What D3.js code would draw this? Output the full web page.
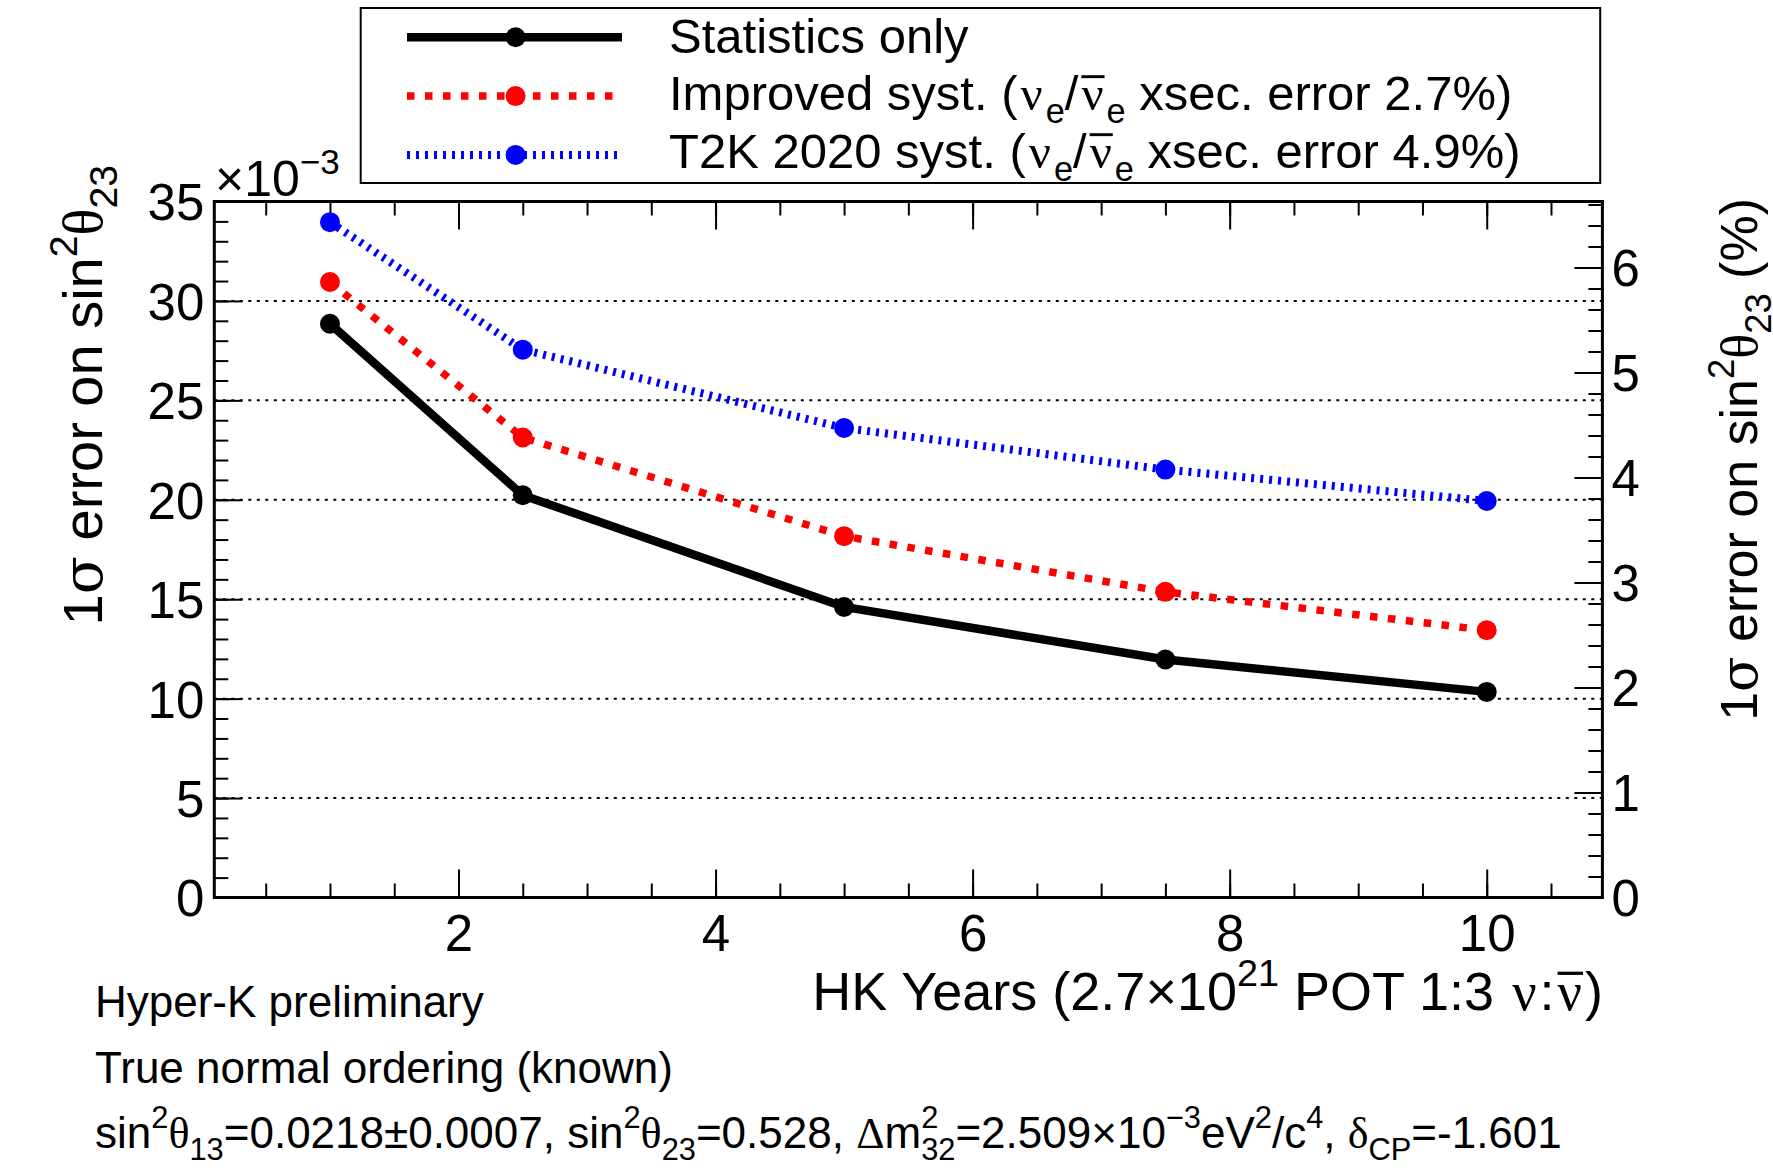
<!DOCTYPE html>
<html><head><meta charset="utf-8">
<script src="https://cdn.jsdelivr.net/npm/d3@7"></script>
<style>body{margin:0;background:#fff} svg{display:block}</style>
</head><body>
<svg id="c" width="1773" height="1171"></svg>
<script>
// ---- data ----
const years = [1, 2.5, 5, 7.5, 10];
const statOnly = [28.85, 20.23, 14.61, 11.97, 10.34];
const improvedSyst = [30.95, 23.13, 18.17, 15.37, 13.44];
const t2kSyst = [33.96, 27.55, 23.61, 21.52, 19.94];
const yTicks = [0, 5, 10, 15, 20, 25, 30, 35];
const yGrid = [5, 10, 15, 20, 25, 30];
const yPctTicks = [0, 1, 2, 3, 4, 5, 6];
const xTicks = [2, 4, 6, 8, 10];
const sin2theta23 = 0.528;
const xsecImproved = "2.7%";
const xsecT2K = "4.9%";

// ---- setup ----
const FONT = "'Liberation Sans', Arial, Helvetica, sans-serif";
const GREEK = "'Liberation Serif', 'DejaVu Serif', serif";
const GREEK2 = "'DejaVu Serif', 'Liberation Serif', serif";
const svg = d3.select("#c");
const X0 = 214.3, X1 = 1602.4, Y0 = 897.5, Y1 = 201.5;
const x = d3.scaleLinear().domain([0.1, 10.9]).range([X0, X1]);
const y = d3.scaleLinear().domain([0, 35]).range([Y0, Y1]);
const yPct = d3.scaleLinear().domain([0, 35e-3 / sin2theta23 * 100]).range([Y0, Y1]);

function rich(parent, px, py, parts, opts) {
  const g = parent.append("g").attr("transform", `translate(${px},${py})` + (opts.rotate ? ` rotate(${opts.rotate})` : ""));
  const t = g.append("text").attr("font-family", FONT).attr("font-size", opts.size)
    .attr("text-anchor", opts.anchor || "start").attr("fill", "#000");
  let shift = 0, prev = null, padNext = 0;
  const bars = [];
  parts.forEach(p => {
    if (typeof p === "string") p = {t: p};
    const s = p.sup ? -0.45 * opts.size : p.sub ? 0.27 * opts.size : 0;
    const ts = t.append("tspan").text(p.t);
    if (s - shift !== 0) ts.attr("dy", s - shift);
    shift = s;
    if (p.sup || p.sub) ts.attr("font-size", opts.size * 0.7);
    if (p.greek) ts.attr("font-family", p.greek === 2 ? GREEK2 : GREEK);
    let dx = padNext + (p.pad || 0);
    if (p.back && prev) dx -= prev.node().getComputedTextLength();
    if (dx) ts.attr("dx", dx);
    padNext = p.pad || 0;
    if (p.bar) bars.push(ts);
    prev = ts;
  });
  bars.forEach(ts => {
    const n = ts.node();
    const k = n.getNumberOfChars();
    const a = n.getStartPositionOfChar(0).x, b = n.getEndPositionOfChar(k - 1).x;
    g.append("line").attr("x1", a).attr("x2", b + 1)
      .attr("y1", -0.68 * opts.size).attr("y2", -0.68 * opts.size)
      .attr("stroke", "#000").attr("stroke-width", 0.06 * opts.size);
  });
  return g;
}

// ---- grid ----
svg.append("g").selectAll("line").data(yGrid).join("line")
  .attr("x1", X0).attr("x2", X1).attr("y1", d => y(d)).attr("y2", d => y(d))
  .attr("stroke", "#000").attr("stroke-width", 2).attr("stroke-dasharray", "3,5.5");

// ---- axes ----
const TL = 28, TS = 14;
function styleAxis(g) { g.select(".domain").remove(); g.selectAll("line").attr("stroke", "#000").attr("stroke-width", 2); }
const xMinor = d3.range(0.5, 10.9, 0.5);
const yMinor = d3.range(0, 35.01, 1);
const pctMinor = d3.range(0, 6.63, 0.2);

svg.append("g").attr("transform", `translate(0,${Y0})`)
  .call(d3.axisBottom(x).tickValues(xMinor).tickSize(-TS).tickFormat("")).call(styleAxis);
svg.append("g").attr("transform", `translate(0,${Y1})`)
  .call(d3.axisTop(x).tickValues(xMinor).tickSize(-TS).tickFormat("")).call(styleAxis);
const xb = svg.append("g").attr("transform", `translate(0,${Y0})`)
  .call(d3.axisBottom(x).tickValues(xTicks).tickSize(-TL).tickPadding(0).tickFormat(d3.format("d"))).call(styleAxis);
xb.selectAll("text").attr("font-family", FONT).attr("font-size", 51).attr("fill", "#000").attr("dy", null).attr("y", 53);
svg.append("g").attr("transform", `translate(0,${Y1})`)
  .call(d3.axisTop(x).tickValues(xTicks).tickSize(-TL).tickFormat("")).call(styleAxis);

svg.append("g").attr("transform", `translate(${X0},0)`)
  .call(d3.axisLeft(y).tickValues(yMinor).tickSize(-TS).tickFormat("")).call(styleAxis);
const yl = svg.append("g").attr("transform", `translate(${X0},0)`)
  .call(d3.axisLeft(y).tickValues(yTicks).tickSize(-TL).tickPadding(0).tickFormat(d3.format("d"))).call(styleAxis);
yl.selectAll("text").attr("font-family", FONT).attr("font-size", 51).attr("fill", "#000").attr("x", -10).attr("dy", "0.36em");

svg.append("g").attr("transform", `translate(${X1},0)`)
  .call(d3.axisRight(yPct).tickValues(pctMinor).tickSize(-TS).tickFormat("")).call(styleAxis);
const yr = svg.append("g").attr("transform", `translate(${X1},0)`)
  .call(d3.axisRight(yPct).tickValues(yPctTicks).tickSize(-TL).tickPadding(0).tickFormat(d3.format("d"))).call(styleAxis);
yr.selectAll("text").attr("font-family", FONT).attr("font-size", 51).attr("fill", "#000").attr("x", 9).attr("dy", "0.36em");

// frame
svg.append("rect").attr("x", X0).attr("y", Y1).attr("width", X1 - X0).attr("height", Y0 - Y1)
  .attr("fill", "none").attr("stroke", "#000").attr("stroke-width", 3);

// ---- series ----
const series = [
  {vals: statOnly, color: "#000", dash: null, w: 8.5},
  {vals: improvedSyst, color: "#ff0000", dash: "7.5,10.5", w: 7.5},
  {vals: t2kSyst, color: "#0000ff", dash: "3,6", w: 8}
];
const line = d3.line().x(d => x(d[0])).y(d => y(d[1]));
series.forEach(s => {
  const pts = years.map((yr, i) => [yr, s.vals[i]]);
  svg.append("path").datum(pts).attr("d", line).attr("fill", "none")
    .attr("stroke", s.color).attr("stroke-width", s.w).attr("stroke-dasharray", s.dash);
  svg.append("g").selectAll("circle").data(pts).join("circle")
    .attr("cx", d => x(d[0])).attr("cy", d => y(d[1])).attr("r", 10).attr("fill", s.color);
});

// ---- legend ----
svg.append("rect").attr("x", 360.7).attr("y", 8).attr("width", 1239.5).attr("height", 175)
  .attr("fill", "#fff").attr("stroke", "#000").attr("stroke-width", 2);
const nuPart = (bar) => ({t: "ν", greek: 1, bar: bar, pad: 3});
const legTexts = [
  ["Statistics only"],
  ["Improved syst. (", nuPart(0), {t: "e", sub: 1}, "/", nuPart(1), {t: "e", sub: 1}, " xsec. error " + xsecImproved + ")"],
  ["T2K 2020 syst. (", nuPart(0), {t: "e", sub: 1}, "/", nuPart(1), {t: "e", sub: 1}, " xsec. error " + xsecT2K + ")"]
];
const legY = [37.3, 96.1, 154.9];
const legBase = [53, 110, 168];
series.forEach((s, i) => {
  svg.append("line").attr("x1", 407).attr("x2", 622).attr("y1", legY[i]).attr("y2", legY[i])
    .attr("stroke", s.color).attr("stroke-width", s.w).attr("stroke-dasharray", s.dash);
  svg.append("circle").attr("cx", 515.6).attr("cy", legY[i]).attr("r", 10).attr("fill", s.color);
  rich(svg, 669, legBase[i], legTexts[i], {size: 49});
});

// ---- titles ----
rich(svg, 215, 196, ["×10", {t: "−3", sup: 1}], {size: 50});
rich(svg, 102, 165, ["1", {t: "σ", greek: 2}, " error on sin", {t: "2", sup: 1}, {t: "θ", greek: 1}, {t: "23", sub: 1}], {size: 56, rotate: -90, anchor: "end"});
rich(svg, 1757, 198, ["1", {t: "σ", greek: 2}, " error on sin", {t: "2", sup: 1}, {t: "θ", greek: 1}, {t: "23", sub: 1}, " (%)"], {size: 52, rotate: -90, anchor: "end"});
rich(svg, 1603, 1010, ["HK Years (2.7×10", {t: "21", sup: 1}, " POT 1:3 ", nuPart(0), ":", nuPart(1), ")"], {size: 54, anchor: "end"});

rich(svg, 95, 1017, ["Hyper-K preliminary"], {size: 44});
rich(svg, 95, 1083, ["True normal ordering (known)"], {size: 44});
rich(svg, 95, 1148, ["sin", {t: "2", sup: 1}, {t: "θ", greek: 1}, {t: "13", sub: 1}, "=0.0218±0.0007, sin", {t: "2", sup: 1}, {t: "θ", greek: 1}, {t: "23", sub: 1},
  "=0.528, ", {t: "Δ", greek: 1}, "m", {t: "2", sup: 1}, {t: "32", sub: 1, back: 1}, "=2.509×10", {t: "−3", sup: 1}, "eV", {t: "2", sup: 1}, "/c", {t: "4", sup: 1},
  ", ", {t: "δ", greek: 1}, {t: "CP", sub: 1}, "=-1.601"], {size: 44});
</script>
</body></html>
